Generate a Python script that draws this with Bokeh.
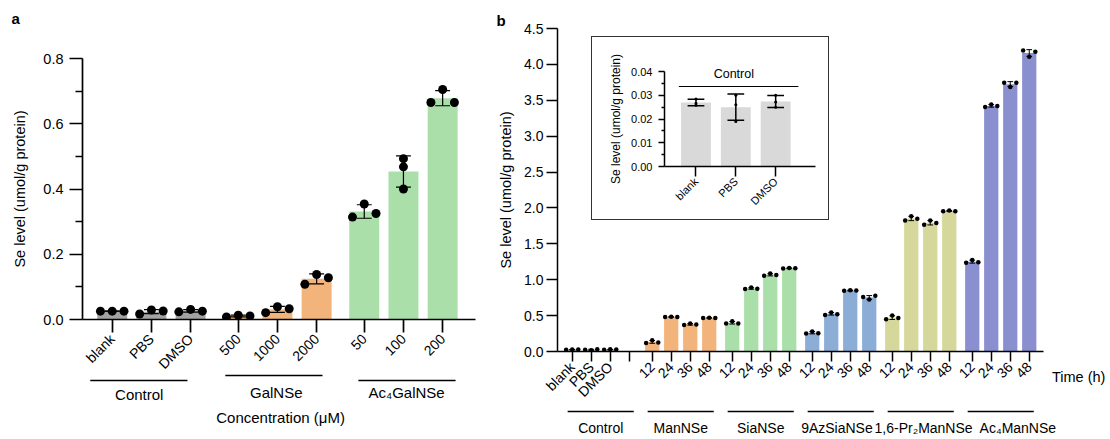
import math
import numpy as np
from bokeh.plotting import figure
from bokeh.models import (ColumnDataSource, FixedTicker, Label, GridBox,
                          Range1d, NumeralTickFormatter)
from bokeh.core.properties import value
from bokeh.embed import file_html
from bokeh.resources import INLINE

FONT = "Liberation Sans"

# ---------------- data: panel a ----------------
a_groups = ["Control", "GalNSe", "Ac₄GalNSe"]
a_labels = ["blank", "PBS", "DMSO", "500", "1000", "2000", "50", "100", "200"]
a_group_idx = [0, 0, 0, 1, 1, 1, 2, 2, 2]
a_rep_left = [0.0255, 0.017, 0.0235, 0.008, 0.021, 0.108, 0.314, 0.493, 0.665]
a_rep_mid = [0.0255, 0.029, 0.031, 0.013, 0.039, 0.138, 0.354, 0.468, 0.705]
a_rep_right = [0.0255, 0.026, 0.0255, 0.011, 0.033, 0.128, 0.325, 0.400, 0.665]
a_colors = ["#A3A3A3", "#F2B47B", "#AADFAA"]
a_xlabel = "Concentration (μM)"
y_label = "Se level (umol/g protein)"
a_yticks = [0.0, 0.2, 0.4, 0.6, 0.8]

# ---------------- data: panel b ----------------
b_groups = ["Control", "ManNSe", "SiaNSe", "9AzSiaNSe", "1,6-Pr₂ManNSe", "Ac₄ManNSe"]
b_labels = ["blank", "PBS", "DMSO",
            "12", "24", "36", "48",
            "12", "24", "36", "48",
            "12", "24", "36", "48",
            "12", "24", "36", "48",
            "12", "24", "36", "48"]
b_group_idx = [0, 0, 0, 1, 1, 1, 1, 2, 2, 2, 2, 3, 3, 3, 3, 4, 4, 4, 4, 5, 5, 5, 5]
b_rep_left = [0.0258, 0.0260, 0.0250,
              0.120, 0.480, 0.370, 0.465,
              0.390, 0.870, 1.055, 1.155,
              0.250, 0.510, 0.845, 0.760,
              0.450, 1.825, 1.765, 1.955,
              1.235, 3.405, 3.745, 4.195]
b_rep_mid = [0.0284, 0.0190, 0.0300,
             0.155, 0.485, 0.390, 0.470,
             0.420, 0.890, 1.085, 1.165,
             0.280, 0.545, 0.855, 0.725,
             0.500, 1.885, 1.825, 1.965,
             1.275, 3.440, 3.685, 4.105]
b_rep_right = [0.0266, 0.0300, 0.0272,
               0.125, 0.480, 0.375, 0.465,
               0.390, 0.875, 1.065, 1.160,
               0.255, 0.520, 0.850, 0.775,
               0.465, 1.850, 1.790, 1.955,
               1.245, 3.420, 3.745, 4.175]
b_colors = ["#A3A3A3", "#F2B47B", "#AADFAA", "#8BADD6", "#D6D79B", "#8A90CF"]
b_xlabel = "Time (h)"
b_yticks = [0.0, 0.5, 1.0, 1.5, 2.0, 2.5, 3.0, 3.5, 4.0, 4.5]

# ---------------- data: inset ----------------
inset_group = "Control"
inset_labels = ["blank", "PBS", "DMSO"]
inset_rep_left = [0.0258, 0.0260, 0.0250]
inset_rep_mid = [0.0284, 0.0190, 0.0300]
inset_rep_right = [0.0266, 0.0300, 0.0272]
inset_color = "#D9D9D9"
inset_yticks = [0.0, 0.01, 0.02, 0.03, 0.04]


def slot_positions(group_idx, pitch):
    pos, seen = [], {}
    for g in group_idx:
        j = seen.get(g, 0)
        seen[g] = j + 1
        pos.append(g * pitch + j)
    return pos


def style_axis(ax, fs, tick_out, standoff, lw=1.5):
    ax.axis_line_width = lw
    ax.axis_line_color = "black"
    ax.major_tick_line_width = lw
    ax.major_tick_line_color = "black"
    ax.major_tick_in = 0
    ax.major_tick_out = tick_out
    ax.minor_tick_line_width = lw
    ax.minor_tick_line_color = "black"
    ax.minor_tick_in = 0
    ax.major_label_text_font = FONT
    ax.major_label_text_font_size = fs
    ax.major_label_text_color = "black"
    ax.major_label_standoff = standoff
    ax.axis_label_text_font = FONT
    ax.axis_label_text_font_style = "normal"
    ax.axis_label_text_color = "black"


def add_bars(p, x, reps, colors, width, cap, dot_size, dot_dx, spread, err_w):
    arr = np.array(reps, dtype=float)
    mean = arr.mean(axis=0)
    sd = arr.std(axis=0, ddof=1)
    x = np.array(x, dtype=float)
    src = ColumnDataSource(dict(x=x, top=mean, color=colors, lo=mean - sd, hi=mean + sd,
                                cl=x - cap / 2, cr=x + cap / 2))
    p.vbar(x="x", top="top", width=width, fill_color="color", line_color=None, source=src)
    p.segment(x0="x", y0="lo", x1="x", y1="hi", line_color="black", line_width=err_w, source=src)
    p.segment(x0="cl", y0="hi", x1="cr", y1="hi", line_color="black", line_width=err_w, source=src)
    p.segment(x0="cl", y0="lo", x1="cr", y1="lo", line_color="black", line_width=err_w, source=src)
    dx, dy = [], []
    for k, rep in enumerate(reps):
        for i, v in enumerate(rep):
            dx.append(x[i] + dot_dx[k] * spread[i])
            dy.append(v)
    p.scatter(dx, dy, size=dot_size, color="black", line_color=None)


def clean(p):
    p.xgrid.visible = False
    p.ygrid.visible = False
    p.outline_line_color = None
    p.background_fill_color = "white"
    p.border_fill_color = "white"


def overlay(x_start, x_end, frame_left, frame_right, width, height, styles=None):
    """Transparent figure covering a whole panel; its x scale continues the panel's x scale,
    its y coordinate is pixels from the top."""
    upp = (x_end - x_start) / (frame_right - frame_left)
    xr = Range1d(x_start - frame_left * upp, x_end + (width - frame_right) * upp)
    o = figure(width=width, height=height, x_range=xr, y_range=Range1d(height, 0),
               x_axis_type=None, y_axis_type=None, min_border=0,
               min_border_left=0, min_border_right=0, min_border_top=0, min_border_bottom=0,
               output_backend="svg", toolbar_location=None, styles=styles or {})
    o.grid.visible = False
    o.outline_line_color = None
    o.background_fill_color = None
    o.border_fill_color = None
    return o


def txt(o, xs, ys, texts, size, align="center", baseline="middle", style="normal"):
    o.text(x=xs, y=ys, text=texts, text_font=value(FONT), text_font_size=value(size),
           text_align=align, text_baseline=baseline, text_color="black",
           text_font_style=style)


# ================= panel a =================
PITCH_A = 3.215
A_W, A_H = 495, 439
A_L, A_R, A_T, A_B = 82, 20, 58, 120
A_XR = (-0.758, 9.268)
a_x = slot_positions(a_group_idx, PITCH_A)
a_bar_colors = [a_colors[g] for g in a_group_idx]
a_spread = [1, 1, 1, 1, 1, 1, 1, 0, 1]

pa = figure(width=A_W, height=A_H, x_range=Range1d(*A_XR), y_range=Range1d(0, 0.8),
            output_backend="svg", toolbar_location=None,
            min_border_left=A_L, min_border_right=A_R, min_border_top=A_T, min_border_bottom=A_B)
clean(pa)
add_bars(pa, a_x, [a_rep_left, a_rep_mid, a_rep_right], a_bar_colors, 0.765, 0.38, 9,
         [-0.3, 0.0, 0.3], a_spread, 1.2)

style_axis(pa.yaxis[0], "14.5px", 13, 6, 1.7)
pa.yaxis.ticker = FixedTicker(ticks=a_yticks, minor_ticks=[0.1, 0.3, 0.5, 0.7])
pa.yaxis.formatter = NumeralTickFormatter(format="0.0")
pa.yaxis.minor_tick_out = 7
pa.yaxis.axis_label = y_label
pa.yaxis.axis_label_text_font_size = "14.5px"
pa.yaxis.axis_label_standoff = 12

style_axis(pa.xaxis[0], "14px", 13, 4, 1.7)
pa.xaxis.ticker = FixedTicker(ticks=a_x, minor_ticks=[])
pa.xaxis.major_label_overrides = {float(x): lab for x, lab in zip(a_x, a_labels)}
pa.xaxis.major_label_orientation = math.pi / 4

oa = overlay(A_XR[0], A_XR[1], A_L, A_W - A_R, A_W, A_H)
a_centers = [g * PITCH_A + 1.0 for g in range(len(a_groups))]
a_line_shift = [-0.32, -0.09, 0.09]
a_label_shift = [-0.31, -0.03, 0.08]
a_line_y = [380, 375, 380]
oa.segment(x0=[c + s - 1.24 for c, s in zip(a_centers, a_line_shift)],
           x1=[c + s + 1.24 for c, s in zip(a_centers, a_line_shift)],
           y0=a_line_y, y1=a_line_y, line_color="black", line_width=1.3)
txt(oa, [c + s for c, s in zip(a_centers, a_label_shift)], [394, 392, 392], a_groups, "15px")
txt(oa, [float(np.mean(a_x)) + 0.08], [417], [a_xlabel], "15px")
oa.add_layout(Label(x=11, y=A_H - 18, x_units="screen", y_units="screen", text="a",
                    text_align="left", text_baseline="alphabetic",
                    text_font=FONT, text_font_size="15px", text_font_style="bold",
                    text_color="black"))

# ================= panel b =================
PITCH_B = 4.21
B_W, B_H = 615, 439
B_L, B_R, B_T, B_B = 62, 67, 28, 88
B_XR = (-0.774, 24.8)
b_x = slot_positions(b_group_idx, PITCH_B)
b_ticks = [g * PITCH_B + j for g in range(len(b_groups)) for j in range(4)]
b_tick_labels = {}
for t in b_ticks:
    b_tick_labels[float(t)] = ""
for x, lab in zip(b_x, b_labels):
    b_tick_labels[float(x)] = lab
b_bar_colors = [b_colors[g] for g in b_group_idx]

pb = figure(width=B_W, height=B_H, x_range=Range1d(*B_XR), y_range=Range1d(0, 4.5),
            output_backend="svg", toolbar_location=None,
            min_border_left=B_L, min_border_right=B_R, min_border_top=B_T, min_border_bottom=B_B)
clean(pb)
add_bars(pb, b_x, [b_rep_left, b_rep_mid, b_rep_right], b_bar_colors, 0.75, 0.3, 4.5,
         [-0.32, 0.0, 0.32], [1] * len(b_x), 1.0)

style_axis(pb.yaxis[0], "14px", 11, 3, 1.5)
pb.yaxis.ticker = FixedTicker(ticks=b_yticks, minor_ticks=[])
pb.yaxis.formatter = NumeralTickFormatter(format="0.0")
pb.yaxis.axis_label = y_label
pb.yaxis.axis_label_text_font_size = "14.5px"
pb.yaxis.axis_label_standoff = 7

style_axis(pb.xaxis[0], "14px", 10, 3, 1.5)
pb.xaxis.ticker = FixedTicker(ticks=b_ticks, minor_ticks=[])
pb.xaxis.major_label_overrides = b_tick_labels
pb.xaxis.major_label_orientation = math.pi / 4

ob = overlay(B_XR[0], B_XR[1], B_L, B_W - B_R, B_W, B_H)
b_centers = [g * PITCH_B + 1.5 for g in range(len(b_groups))]
b_label_shift = [0.0, 0.0, 0.0, -0.2, 0.15, 0.9]
ob.segment(x0=[c - 1.74 for c in b_centers], x1=[c + 1.74 for c in b_centers],
           y0=[411] * len(b_groups), y1=[411] * len(b_groups), line_color="black", line_width=1.3)
txt(ob, [c + s for c, s in zip(b_centers, b_label_shift)], [427.5] * len(b_groups),
    b_groups, "14px")
ob.add_layout(Label(x=556.5, y=B_H - 376, x_units="screen", y_units="screen", text=b_xlabel,
                    text_align="left", text_baseline="middle",
                    text_font=FONT, text_font_size="14.5px", text_color="black"))
ob.add_layout(Label(x=1, y=B_H - 20, x_units="screen", y_units="screen", text="b",
                    text_align="left", text_baseline="alphabetic",
                    text_font=FONT, text_font_size="15px", text_font_style="bold",
                    text_color="black"))

# ================= inset =================
I_W, I_H = 238, 184
I_L, I_R, I_T, I_B = 72, 15, 34, 55
I_XR = (-0.79, 3.0)
inset_x = [0, 1, 2]
pi_ = figure(width=I_W, height=I_H, x_range=Range1d(*I_XR), y_range=Range1d(0, 0.04),
             output_backend="svg", toolbar_location=None,
             min_border_left=I_L, min_border_right=I_R, min_border_top=I_T, min_border_bottom=I_B,
             styles={"border": "1.5px solid #333333"})
clean(pi_)
add_bars(pi_, inset_x, [inset_rep_left, inset_rep_mid, inset_rep_right], [inset_color] * 3,
         0.75, 0.42, 3, [0.0, 0.0, 0.0], [1, 1, 1], 1.5)
style_axis(pi_.yaxis[0], "11px", 6, 6, 1.5)
pi_.yaxis.ticker = FixedTicker(ticks=inset_yticks, minor_ticks=[0.005, 0.015, 0.025, 0.035])
pi_.yaxis.formatter = NumeralTickFormatter(format="0.00")
pi_.yaxis.minor_tick_out = 3
pi_.yaxis.axis_label = y_label
pi_.yaxis.axis_label_text_font_size = "12px"
pi_.yaxis.axis_label_standoff = 5
style_axis(pi_.xaxis[0], "11px", 10, 3, 1.5)
pi_.xaxis.ticker = FixedTicker(ticks=inset_x, minor_ticks=[])
pi_.xaxis.major_label_overrides = {float(x): lab for x, lab in zip(inset_x, inset_labels)}
pi_.xaxis.major_label_orientation = math.pi / 4

oi = overlay(I_XR[0], I_XR[1], I_L, I_W - I_R, I_W, I_H,
             styles={"border": "1.5px solid transparent"})
oi.segment(x0=[-0.43], x1=[2.57], y0=[49], y1=[49], line_color="black", line_width=1.2)
txt(oi, [0.95], [36], [inset_group], "12.5px")

# Grid with zero-size tracks so that no two figures share a grid line
# (Bokeh aligns the frames of figures that share grid lines).
rows = ["0px", "0px", "0px", "36px", "0px", "187px", "0px", "216px", "0px", "0px", "0px"]
cols = ["0px", "495px", "0px", "0px", "0px", "96px", "0px", "241px", "0px", "278px", "0px"]
p = GridBox(children=[(pa, 0, 0, 8, 2), (oa, 1, 1, 8, 2),
                      (pb, 2, 4, 8, 6), (ob, 3, 5, 8, 6),
                      (pi_, 4, 6, 2, 2), (oi, 5, 7, 2, 2)],
            rows=rows, cols=cols, spacing=0)

open("out.html", "w").write(file_html(p, INLINE))
